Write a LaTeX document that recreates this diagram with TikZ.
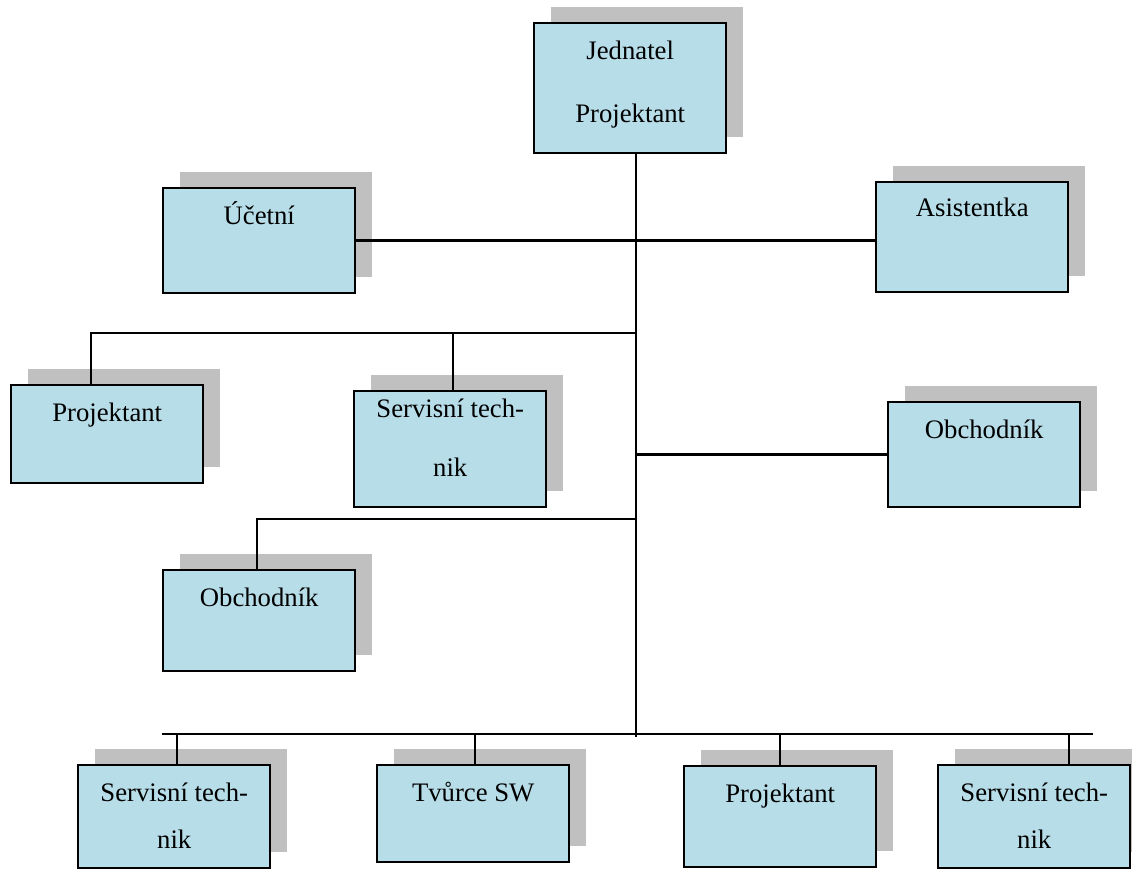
\documentclass[tikz,border=0pt]{standalone}
\usepackage{fontspec}
\setmainfont{Liberation Serif}
\usetikzlibrary{shadows,calc}

\definecolor{boxblue}{RGB}{183,221,232}
\definecolor{shadowgray}{RGB}{192,192,192}

\tikzset{
  box/.style={draw, line width=1.4pt, fill=boxblue, inner sep=0pt, outer sep=0pt,
    anchor=north west, minimum width=4.81cm,
    drop shadow={shadow xshift=0.42cm, shadow yshift=0.4cm, fill=shadowgray, opacity=1}},
  boxtext/.style={anchor=base, align=center, inner sep=0pt, yshift=-0.9cm,
    font=\fontsize{19}{33.4}\selectfont},
  link/.style={line width=1.5pt}
}

\begin{document}
\begin{tikzpicture}[x=0.025cm, y=-0.025cm]
            \useasboundingbox (0,0) rectangle (1132,869);
            % boxes
            \node[box, minimum height=3.25cm, label={[boxtext, yshift=-1.575cm, font=\fontsize{19}{44.8}\selectfont]north:Jednatel\\Projektant}] (jednatel) at (534,23) {};
            \node[box, minimum height=2.625cm, label={[boxtext]north:Účetní}] (ucetni) at (163,188) {};
            \node[box, minimum height=2.75cm, label={[boxtext, yshift=0.05cm]north:Asistentka}] (asistentka) at (876,182) {};
            \node[box, minimum height=2.45cm, label={[boxtext]north:Projektant}] (projektant1) at (11,385) {};
            \node[box, minimum height=2.9cm, label={[boxtext, yshift=-1.225cm, font=\fontsize{19}{41.3}\selectfont]north:Servisní tech-\\nik}] (servis1) at (354,391) {};
            \node[box, minimum height=2.625cm, label={[boxtext]north:Obchodník}] (obchodnik1) at (888,402) {};
            \node[box, minimum height=2.525cm, label={[boxtext]north:Obchodník}] (obchodnik2) at (163,570) {};
            \node[box, minimum height=2.575cm, label={[boxtext, yshift=-1.175cm]north:Servisní tech-\\nik}] (servis2) at (78,765) {};
            \node[box, minimum height=2.425cm, label={[boxtext]north:Tvůrce SW}] (tvurce) at (377,765) {};
            \node[box, minimum height=2.525cm, label={[boxtext]north:Projektant}] (projektant2) at (684,766) {};
            \node[box, minimum height=2.575cm, label={[boxtext, yshift=-1.175cm]north:Servisní tech-\\nik}] (servis3) at (938,765) {};
            % lines
            \coordinate (trunk) at (636,737);
            \coordinate (busA) at (636,333);
            \coordinate (busB) at (636,519);
            \coordinate (busL) at (162,734);
            \coordinate (busR) at (1093,734);
            \draw[link] (jednatel.south -| trunk) -- (trunk);
            \draw[link] (ucetni.east) -- (ucetni.east -| asistentka.west);
            \draw[link] (busA) -| ($(projektant1.north)+(-16,0)$);
            \draw[link] ($(servis1.north)+(2.5,0)$) |- (busA);
            \draw[link] (obchodnik1.west -| trunk) -- (obchodnik1.west);
            \draw[link] (busB) -| ($(obchodnik2.north)+(-2,0)$);
            \draw[link] (busL) -- (busR);
            \draw[link] ($(servis2.north)+(2.5,0)$) -- ($(servis2.north |- busL)+(2.5,0)$);
            \draw[link] ($(tvurce.north)+(2,0)$) -- ($(tvurce.north |- busL)+(2,0)$);
            \draw[link] (projektant2.north) -- (projektant2.north |- busL);
            \draw[link] ($(servis3.north)+(34.5,0)$) -- ($(servis3.north |- busR)+(34.5,0)$);
        \end{tikzpicture}
\end{document}
